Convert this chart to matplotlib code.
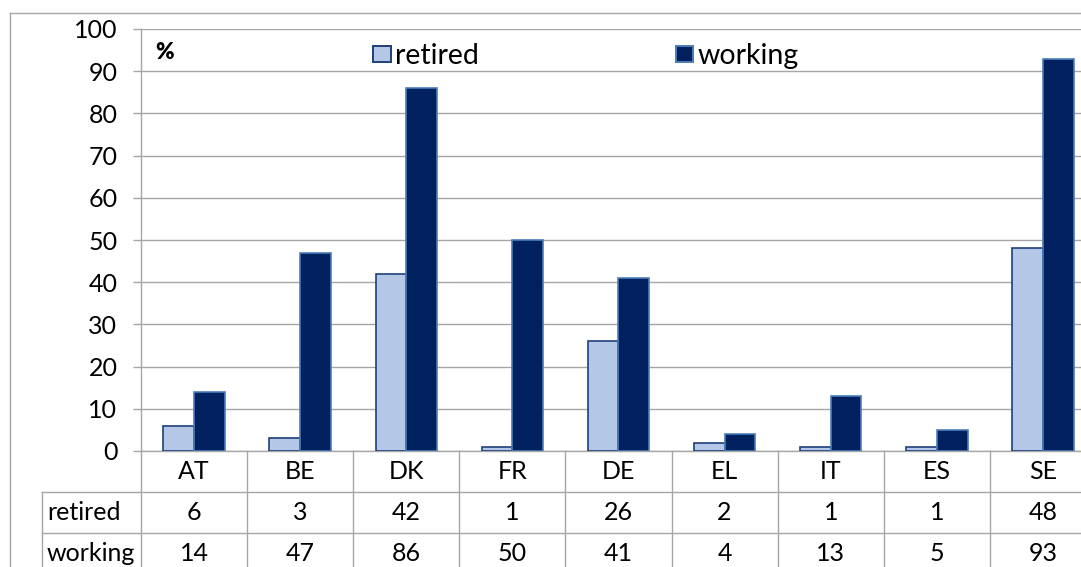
import numpy as np
import matplotlib
matplotlib.use('Agg')
import matplotlib.pyplot as plt
from matplotlib.lines import Line2D
from matplotlib.patches import Patch

# data
countries = ['AT', 'BE', 'DK', 'FR', 'DE', 'EL', 'IT', 'ES', 'SE']
retired = [6, 3, 42, 1, 26, 2, 1, 1, 48]
working = [14, 47, 86, 50, 41, 4, 13, 5, 93]
series_names = ['retired', 'working']

W, H = 1081, 567
plt.rcParams['font.family'] = ['Lato', 'DejaVu Sans']
FS = 18
LEG_FS = 20.5
GRID = '#A6A6A6'
RET_FILL, RET_EDGE = '#B4C7E7', '#1F3F7A'
WRK_FILL, WRK_EDGE = '#002060', '#4A7EBB'

fig = plt.figure(figsize=(W / 100, H / 100), dpi=100)


def fx(px):
    return px / W


def fy(py):
    return 1 - py / H


# plot area in pixel terms (it runs past the right edge like the source)
left, right, top, bottom = 141, 1096, 29, 451
ax = fig.add_axes([fx(left), fy(bottom), (right - left) / W, (bottom - top) / H])

x = np.arange(len(countries))
bw = 0.29
ax.bar(x - bw / 2, retired, bw, color=RET_FILL, edgecolor=RET_EDGE, linewidth=1.2, zorder=3)
ax.bar(x + bw / 2, working, bw, color=WRK_FILL, edgecolor=WRK_EDGE, linewidth=1.2, zorder=3)

ax.set_xlim(-0.5, len(countries) - 0.5)
ax.set_ylim(0, 100)
ax.set_yticks(range(0, 101, 10))
ax.set_xticks([])
ax.yaxis.grid(True, color=GRID, linewidth=1.0, zorder=0)
ax.tick_params(axis='y', length=6, color=GRID, width=1.0, pad=11, labelsize=FS)
for s in ['top', 'right']:
    ax.spines[s].set_visible(False)
for s in ['left', 'bottom']:
    ax.spines[s].set_color(GRID)
    ax.spines[s].set_linewidth(1.0)

ax.text(14 / (right - left), 0.945, '%', transform=ax.transAxes, fontsize=FS - 2,
        fontweight='heavy', va='center', ha='left')

handles = [Patch(facecolor=RET_FILL, edgecolor=RET_EDGE, linewidth=1.4),
           Patch(facecolor=WRK_FILL, edgecolor=WRK_EDGE, linewidth=1.4)]
fig.legend(handles, series_names, loc='center left', bbox_to_anchor=(fx(373), fy(56)),
           ncol=2, frameon=False, fontsize=LEG_FS, borderpad=0, borderaxespad=0,
           handlelength=0.63, handleheight=0.5, handletextpad=0.15, columnspacing=6.9)

# data table below the axis
px_per_cat = (right - left) / len(countries)
px_per_unit = (bottom - top) / 100
row_h = 41 / px_per_unit
label_left = -0.5 + (42 - left) / px_per_cat
y_rows = [0, -row_h, -2 * row_h, -3 * row_h]
kw = dict(color=GRID, linewidth=1.0, clip_on=False, zorder=1)
for k in range(len(countries) + 1):
    ax.plot([k - 0.5, k - 0.5], [0, y_rows[3]], **kw)
ax.plot([label_left, label_left], [y_rows[1], y_rows[3]], **kw)
for yy in y_rows[1:3]:
    ax.plot([label_left, len(countries) - 0.5], [yy, yy], **kw)

for i, c in enumerate(countries):
    ax.text(i, -row_h / 2, c, ha='center', va='center', fontsize=FS, clip_on=False)
    ax.text(i, -1.5 * row_h, str(retired[i]), ha='center', va='center', fontsize=FS, clip_on=False)
    ax.text(i, -2.5 * row_h, str(working[i]), ha='center', va='center', fontsize=FS, clip_on=False)
for r, name in enumerate(series_names):
    ax.text(label_left + 5 / px_per_cat, -(1.5 + r) * row_h, name, ha='left', va='center',
            fontsize=FS, clip_on=False)

# outer chart frame
fig.add_artist(Line2D([fx(9.5), fx(9.5)], [fy(12.5), 0], color=GRID, linewidth=1.0))
fig.add_artist(Line2D([fx(9.5), 1], [fy(12.5), fy(12.5)], color=GRID, linewidth=1.0))

fig.savefig('out.png', dpi=100)
